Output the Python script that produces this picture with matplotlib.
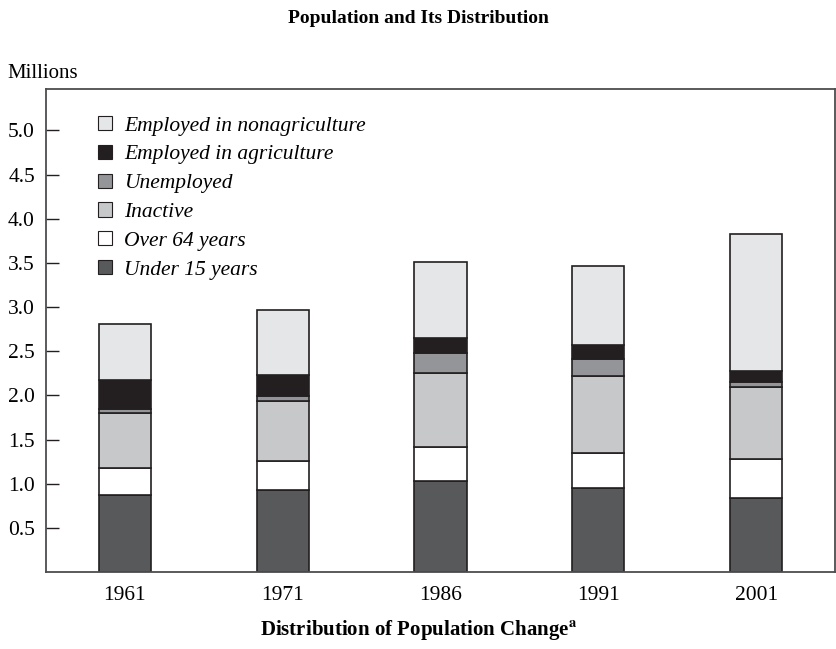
import numpy as np
import matplotlib.pyplot as plt
from matplotlib.patches import Patch

plt.rcParams['font.family'] = ['Liberation Serif', 'DejaVu Serif']
plt.rcParams['mathtext.fontset'] = 'stix'

years = ['1961', '1971', '1986', '1991', '2001']
under_15 = [0.875, 0.93, 1.03, 0.95, 0.84]
over_64 = [0.30, 0.33, 0.385, 0.40, 0.435]
inactive = [0.625, 0.68, 0.835, 0.87, 0.82]
unemployed = [0.045, 0.05, 0.235, 0.195, 0.055]
agriculture = [0.33, 0.24, 0.16, 0.155, 0.125]
nonagriculture = [0.635, 0.735, 0.87, 0.90, 1.555]

series = [
    ('Under 15 years', under_15, '#58595b'),
    ('Over 64 years', over_64, '#ffffff'),
    ('Inactive', inactive, '#c7c8ca'),
    ('Unemployed', unemployed, '#939598'),
    ('Employed in agriculture', agriculture, '#231f20'),
    ('Employed in nonagriculture', nonagriculture, '#e5e6e8'),
]

fig = plt.figure(figsize=(8.37, 6.49), dpi=100)
ax = fig.add_axes([0.055, 0.1186, 0.9426, 0.7443])

x = np.arange(len(years))
bottom = np.zeros(len(years))
handles = []
for label, vals, col in series:
    ax.bar(x, vals, width=0.33, bottom=bottom, color=col,
           edgecolor='#231f20', linewidth=1.2)
    bottom += np.array(vals)
    handles.append(Patch(facecolor=col, edgecolor='#231f20', linewidth=0.8, label=label))

ax.set_xlim(-0.5, 4.5)
ax.set_ylim(0, 5.47)
ax.set_xticks(x)
ax.set_xticklabels(years)
ax.set_yticks([0.5, 1.0, 1.5, 2.0, 2.5, 3.0, 3.5, 4.0, 4.5, 5.0])
ax.set_yticklabels(['0.5', '1.0', '1.5', '2.0', '2.5', '3.0', '3.5', '4.0', '4.5', '5.0'])
ax.tick_params(axis='y', direction='in', length=9.5, width=1, labelsize=15.5, pad=8, color='#231f20')
ax.tick_params(axis='x', length=0, labelsize=15.5, pad=10)
for s in ax.spines.values():
    s.set_color('#4d4d4f')
    s.set_linewidth(1.3)

leg = ax.legend(handles=handles[::-1], loc='upper left', bbox_to_anchor=(0.055, 0.962),
                frameon=False, prop={'style': 'italic', 'size': 15.5},
                handlelength=0.65, handleheight=0.65, handletextpad=0.55,
                labelspacing=0.42, borderaxespad=0)

fig.text(0.5, 0.971, 'Population and Its Distribution', ha='center', va='center',
         fontsize=14, fontweight='bold')
fig.text(0.009, 0.887, 'Millions', ha='left', va='center', fontsize=15)
fig.text(0.5, 0.029, r'Distribution of Population Change$^{\mathbf{a}}$', ha='center',
         va='center', fontsize=15, fontweight='bold')

fig.savefig('out.png', dpi=100)
